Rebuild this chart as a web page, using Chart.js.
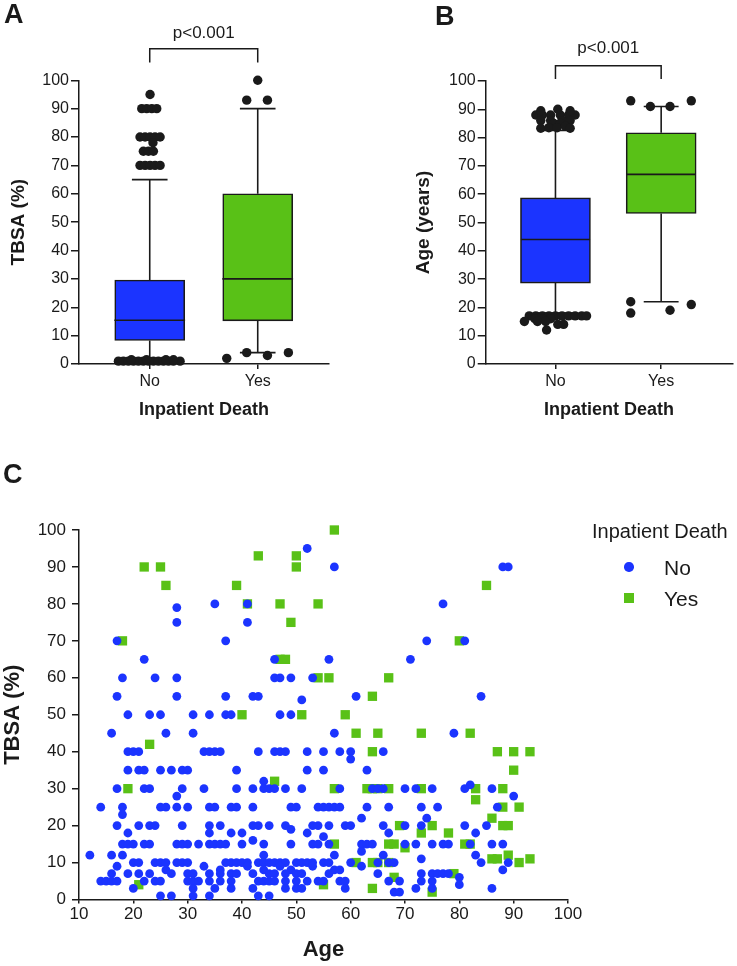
<!DOCTYPE html>
<html>
<head>
<meta charset="utf-8">
<script src="https://cdn.jsdelivr.net/npm/chart.js@4.4.0/dist/chart.umd.min.js"></script>
<style>
html,body{margin:0;padding:0;background:#fff;width:737px;height:966px;overflow:hidden;font-family:"Liberation Sans",Arial,sans-serif;color:#1a1a1a;}
canvas{position:absolute;}
.lbl{position:absolute;font-weight:bold;font-size:27px;line-height:1;}
.leg{position:absolute;line-height:1;white-space:nowrap;}
</style>
</head>
<body>
<canvas id="ca" width="370" height="424" style="left:0;top:0"></canvas>
<canvas id="cb" width="369" height="424" style="left:368px;top:0"></canvas>
<canvas id="cc" width="737" height="511" style="left:0;top:455px"></canvas>
<div class="lbl" style="left:4px;top:1px">A</div>
<div class="lbl" style="left:435px;top:3px">B</div>
<div class="lbl" style="left:3px;top:461px">C</div>
<div class="leg" style="left:592px;top:521px;font-size:20px">Inpatient Death</div>
<div class="leg" style="left:624.3px;top:562.3px;width:9.4px;height:9.4px;border-radius:50%;background:#1b34ff"></div>
<div class="leg" style="left:664px;top:556.7px;font-size:21px">No</div>
<div class="leg" style="left:624.4px;top:593.4px;width:9.3px;height:9.3px;background:#59c117"></div>
<div class="leg" style="left:664px;top:587.7px;font-size:21px">Yes</div>
<script>
// ---------------- data ----------------
const categories = ['No', 'Yes'];

// Panel A: TBSA (%) box statistics per category (No, Yes)
const tbsaMin    = [1, 4];
const tbsaQ1     = [8.3, 15.2];
const tbsaMedian = [15.4, 30];
const tbsaQ3     = [29.6, 60];
const tbsaMax    = [65, 90];
const tbsaOutNo  = [95, 90, 90, 90, 90, 80, 80, 80, 80, 80, 78, 75, 75, 75, 70, 70, 70, 70, 70,
                    1, 1, 1, 1, 1, 1, 1, 1, 1, 1, 1, 1, 1, 1.5, 1.5, 1.5, 1.5];
const tbsaJitNo  = [0.003, -0.074, -0.028, 0.019, 0.065, -0.09, -0.043, 0.003, 0.049, 0.096, 0.03, -0.059, -0.012, 0.034, -0.09, -0.043, 0.003, 0.049, 0.096,
                    -0.29, -0.244, -0.198, -0.151, -0.105, -0.059, -0.012, 0.034, 0.08, 0.127, 0.173, 0.219, 0.281, -0.17, -0.03, 0.15, 0.22];
const tbsaOutYes = [100, 93, 93, 2, 4, 3, 4];
const tbsaJitYes = [0, -0.102, 0.09, -0.287, -0.102, 0.09, 0.284];

// Panel B: Age (years) box statistics per category (No, Yes)
const ageMin    = [18, 22];
const ageQ1     = [28.6, 53.2];
const ageMedian = [44, 67];
const ageQ3     = [58.7, 81.7];
const ageMax    = [82.5, 91];
const ageOutNo  = [88, 88, 88, 88, 88, 88, 89.5, 90, 89.5, 86, 86, 86, 86, 85, 85, 83.3, 83.5, 83.5, 84, 83.3,
                   17, 17, 17, 17, 17, 17, 17, 17, 17, 17, 16, 16, 16, 15, 15, 15, 14, 14, 12];
const ageJitNo  = [-0.186, -0.124, -0.046, 0.046, 0.124, 0.186, -0.139, 0.022, 0.139, -0.139, -0.046, 0.062, 0.139, -0.015, 0.046, -0.139, -0.062, 0.015, 0.093, 0.139,
                   -0.248, -0.186, -0.124, -0.062, 0, 0.062, 0.124, 0.186, 0.248, 0.294, -0.195, -0.124, -0.046, -0.294, -0.17, -0.093, 0.022, 0.077, -0.084];
const ageOutYes = [93, 93, 91, 91, 22, 18, 19, 21];
const ageJitYes = [-0.288, 0.285, -0.102, 0.084, -0.288, -0.288, 0.084, 0.285];

const pValueText = 'p<0.001';

// Panel C: [age, TBSA] for each patient
const noPoints = [
[52,95],[57,90],[88,90],[89,90],[35,80],[41,80],[77,80],[28,79],[28,75],[41,75],
[17,70],[37,70],[74,70],[81,70],[22,65],[46,65],[56,65],[71,65],
[18,60],[24,60],[28,60],[46,60],[47,60],[49,60],[53,60],
[17,55],[28,55],[37,55],[42,55],[43,55],[61,55],[84,55],[51,54],
[19,50],[23,50],[25,50],[31,50],[34,50],[37,50],[38,50],[47,50],[49,50],
[16,45],[26,45],[31,45],[57,45],[79,45],
[19,40],[20,40],[21,40],[33,40],[34,40],[35,40],[36,40],[43,40],[46,40],[47,40],[48,40],[52,40],[55,40],[58,40],[60,40],[66,40],[60,38],
[19,35],[21,35],[22,35],[25,35],[27,35],[29,35],[30,35],[39,35],[52,35],[55,35],[63,35],[44,32],[82,31],
[17,30],[22,30],[23,30],[29,30],[33,30],[39,30],[42,30],[44,30],[45,30],[46,30],[48,30],[51,30],[58,30],[64,30],[65,30],[66,30],[70,30],[72,30],[75,30],[81,30],[86,30],
[28,28],[90,28],
[14,25],[18,25],[25,25],[26,25],[28,25],[30,25],[34,25],[35,25],[38,25],[39,25],[42,25],[49,25],[50,25],[54,25],[55,25],[56,25],[57,25],[58,25],[63,25],[67,25],[73,25],[76,25],[87,25],
[18,23],[62,22],[74,22],
[17,20],[21,20],[23,20],[24,20],[29,20],[34,20],[36,20],[42,20],[43,20],[45,20],[48,20],[53,20],[54,20],[56,20],[59,20],[60,20],[66,20],[70,20],[73,20],[81,20],[85,20],
[49,19],[19,18],[34,18],[38,18],[40,18],[52,18],[67,18],[83,18],[55,17],[42,16],
[18,15],[19,15],[20,15],[22,15],[23,15],[28,15],[29,15],[30,15],[32,15],[34,15],[35,15],[36,15],[37,15],[40,15],[44,15],[49,15],[53,15],[54,15],[56,15],[62,15],[63,15],[64,15],[70,15],[72,15],[75,15],[77,15],[78,15],[82,15],[86,15],[88,15],
[62,13],[12,12],[16,12],[18,12],[44,12],[57,12],[66,12],[83,12],[73,11],
[20,10],[21,10],[24,10],[25,10],[26,10],[28,10],[29,10],[30,10],[37,10],[38,10],[39,10],[40,10],[41,10],[43,10],[44,10],[45,10],[46,10],[47,10],[48,10],[50,10],[51,10],[52,10],[53,10],[55,10],[56,10],[60,10],[65,10],[67,10],[68,10],[84,10],[89,10],
[17,9],[33,9],[41,9],[47,9],[53,9],[62,9],
[26,8],[36,8],[44,8],[49,8],[57,8],[58,8],[88,8],
[16,7],[19,7],[21,7],[23,7],[27,7],[30,7],[31,7],[34,7],[36,7],[38,7],[39,7],[42,7],[45,7],[46,7],[48,7],[50,7],[51,7],[56,7],[65,7],[73,7],[75,7],[76,7],[77,7],[78,7],
[80,6],
[14,5],[15,5],[16,5],[17,5],[22,5],[24,5],[25,5],[30,5],[31,5],[32,5],[34,5],[36,5],[38,5],[43,5],[44,5],[45,5],[46,5],[48,5],[50,5],[52,5],[54,5],[55,5],[58,5],[59,5],[67,5],[69,5],[73,5],[75,5],
[80,4],
[20,3],[31,3],[35,3],[38,3],[42,3],[48,3],[50,3],[51,3],[59,3],[72,3],[75,3],[86,3],
[68,2],[69,2],
[25,1],[27,1],[31,1],[34,1],[43,1],[45,1]
];
const yesPoints = [
[57,100],[43,93],[50,93],[22,90],[25,90],[50,90],[26,85],[39,85],[85,85],[41,80],[47,80],[54,80],[49,75],[18,70],[80,70],
[47,65],[48,65],[54,60],[56,60],[67,60],[64,55],[40,50],[51,50],[59,50],[61,45],[65,45],[73,45],[82,45],[23,42],
[64,40],[87,40],[90,40],[93,40],[90,35],[46,32],[19,30],[57,30],[63,30],[64,30],[65,30],[67,30],[73,30],[83,30],[88,30],
[83,27],[88,25],[91,25],[86,22],[69,20],[75,20],[88,20],[89,20],[73,18],[78,18],[57,15],[67,15],[68,15],[81,15],[82,15],
[70,14],[89,12],[61,10],[64,10],[65,10],[67,10],[86,11],[87,11],[93,11],[91,10],[79,7],[68,6],[21,4],[55,4],[64,3],[75,2]
];

// ---------------- styling ----------------
const FONT = '"Liberation Sans", Arial, sans-serif';
const INK = '#1a1a1a';
const BLUE = '#1b34ff';
const GREEN = '#59c117';
Chart.defaults.font.family = FONT;
Chart.defaults.color = INK;

function boxChart(id, s) {
  const half = 0.3275, cap = 0.165;
  const medianPts = [], whiskerPts = [];
  categories.forEach((c, i) => {
    medianPts.push({x: i - half, y: s.median[i]}, {x: i + half, y: s.median[i]}, {x: i, y: null});
    whiskerPts.push(
      {x: i, y: s.q3[i]}, {x: i, y: s.max[i]}, {x: i, y: null},
      {x: i - cap, y: s.max[i]}, {x: i + cap, y: s.max[i]}, {x: i, y: null},
      {x: i, y: s.q1[i]}, {x: i, y: s.min[i]}, {x: i, y: null},
      {x: i - cap, y: s.min[i]}, {x: i + cap, y: s.min[i]}, {x: i, y: null});
  });
  const outPts = s.outNo.map((v, k) => ({x: 0 + s.jitNo[k], y: v}))
    .concat(s.outYes.map((v, k) => ({x: 1 + s.jitYes[k], y: v})));
  const canvas = document.getElementById(id);
  const H = canvas.height;
  return new Chart(canvas, {
    type: 'bar',
    data: {
      datasets: [
        {type: 'bar', data: categories.map((c, i) => ({x: i, y: [s.q1[i], s.q3[i]]})),
         backgroundColor: [BLUE, GREEN], borderColor: INK, borderWidth: 1.6, borderSkipped: false,
         barThickness: 70, order: 4},
        {type: 'line', data: whiskerPts, borderColor: INK, borderWidth: 1.6, pointRadius: 0, spanGaps: false, order: 3},
        {type: 'line', data: medianPts, borderColor: INK, borderWidth: 1.6, pointRadius: 0, spanGaps: false, order: 2},
        {type: 'line', data: outPts, showLine: false, pointRadius: 4.7, pointBackgroundColor: INK, pointBorderWidth: 0, clip: false, order: 0},
        {type: 'line', data: [{x: 0, y: s.bracketTip}, {x: 0, y: s.bracketTop}, {x: 1, y: s.bracketTop}, {x: 1, y: s.bracketTip}],
         borderColor: INK, borderWidth: 1.5, pointRadius: 0, clip: false, order: 1}
      ]
    },
    options: {
      responsive: false, animation: false, events: [],
      layout: {padding: s.pad},
      plugins: {legend: {display: false}, tooltip: {enabled: false}},
      scales: {
        x: {
          type: 'linear', min: s.xMin, max: s.xMax, offset: false,
          afterBuildTicks: sc => { sc.ticks = categories.map((c, i) => ({value: i})); },
          ticks: {callback: v => categories[v] ?? '', font: {size: 16}, color: INK, padding: 3, autoSkip: false, maxRotation: 0},
          grid: {offset: false, drawOnChartArea: false, drawTicks: true, tickLength: 5, color: INK, lineWidth: 1.5},
          border: {display: true, color: INK, width: 1.5},
          title: {display: true, text: 'Inpatient Death', font: {size: 18, weight: 'bold'}, color: INK, padding: {top: 0, bottom: 3}},
          afterFit: sc => { sc.height = H - s.bottomY; }
        },
        y: {
          type: 'linear', min: 0, max: 100,
          ticks: {stepSize: 10, font: {size: 16}, color: INK, padding: 2},
          grid: {drawOnChartArea: false, drawTicks: true, tickLength: 8, color: INK, lineWidth: 1.5},
          border: {display: true, color: INK, width: 1.5},
          title: {display: true, text: s.yTitle, font: {size: 19, weight: 'bold'}, color: INK, padding: {top: s.yTitlePad, bottom: 0}},
          afterFit: sc => { sc.width = s.yAxisW; }
        }
      }
    },
    plugins: [{
      id: 'pvalue',
      afterDatasetsDraw(chart) {
        const ctx = chart.ctx;
        ctx.save();
        ctx.font = '17px ' + FONT;
        ctx.fillStyle = INK;
        ctx.textAlign = 'center';
        ctx.textBaseline = 'middle';
        ctx.fillText(pValueText, chart.scales.x.getPixelForValue(0.5), chart.scales.y.getPixelForValue(s.textY));
        ctx.restore();
      }
    }]
  });
}

boxChart('ca', {
  min: tbsaMin, q1: tbsaQ1, median: tbsaMedian, q3: tbsaQ3, max: tbsaMax,
  outNo: tbsaOutNo, jitNo: tbsaJitNo, outYes: tbsaOutYes, jitYes: tbsaJitYes,
  xMin: -0.655, xMax: 1.66, yTitle: 'TBSA (%)', yTitlePad: 7,
  pad: {left: 0, right: 41, top: 80.3, bottom: 0}, yAxisW: 79, bottomY: 364,
  bracketTip: 106.3, bracketTop: 111.1, textY: 116.7
});
boxChart('cb', {
  min: ageMin, q1: ageQ1, median: ageMedian, q3: ageQ3, max: ageMax,
  outNo: ageOutNo, jitNo: ageJitNo, outYes: ageOutYes, jitYes: ageJitYes,
  xMin: -0.66, xMax: 1.673, yTitle: 'Age (years)', yTitlePad: 0,
  pad: {left: 44, right: 0, top: 81, bottom: 0}, yAxisW: 73.7, bottomY: 364,
  bracketTip: 100.7, bracketTop: 105.4, textY: 111.5
});

// Panel C scatter
(function () {
  const canvas = document.getElementById('cc');
  const H = canvas.height;
  new Chart(canvas, {
    type: 'scatter',
    data: {
      datasets: [
        {label: 'No', data: noPoints.map(p => ({x: p[0], y: p[1]})), pointStyle: 'circle', pointRadius: 4.4,
         backgroundColor: BLUE, borderWidth: 0, order: 0, clip: false},
        {label: 'Yes', data: yesPoints.map(p => ({x: p[0], y: p[1]})), pointStyle: 'rect', pointRadius: 6.6,
         backgroundColor: GREEN, borderWidth: 0, order: 1, clip: false}
      ]
    },
    options: {
      responsive: false, animation: false, events: [],
      layout: {padding: {left: 0, right: 169, top: 75, bottom: 0}},
      plugins: {legend: {display: false}, tooltip: {enabled: false}},
      scales: {
        x: {
          type: 'linear', min: 10, max: 100,
          ticks: {stepSize: 10, font: {size: 17}, color: INK, padding: 1, maxRotation: 0},
          grid: {drawOnChartArea: false, drawTicks: true, tickLength: 4, color: INK, lineWidth: 1.5},
          border: {display: true, color: INK, width: 1.5},
          title: {display: true, text: 'Age', font: {size: 22, weight: 'bold'}, color: INK, padding: {top: 0, bottom: 3}},
          afterFit: sc => { sc.height = H - 444.5; }
        },
        y: {
          type: 'linear', min: 0, max: 100,
          ticks: {stepSize: 10, font: {size: 17}, color: INK, padding: 6},
          grid: {drawOnChartArea: false, drawTicks: true, tickLength: 7, color: INK, lineWidth: 1.5},
          border: {display: true, color: INK, width: 1.5},
          title: {display: true, text: 'TBSA (%)', font: {size: 22, weight: 'bold'}, color: INK, padding: {top: 0, bottom: 0}},
          afterFit: sc => { sc.width = 79; }
        }
      }
    }
  });
})();
</script>
</body>
</html>
